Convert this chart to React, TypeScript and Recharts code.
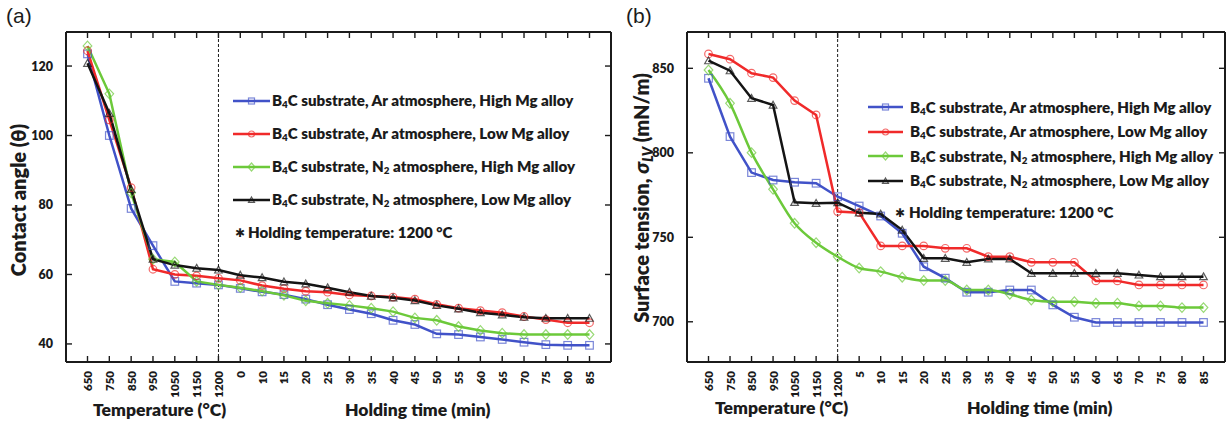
import React from "react";
import { LineChart, Line, XAxis, YAxis, ReferenceLine, Legend } from "recharts";

// x categories: heating temperatures, then holding times
const leftCats = ["650", "750", "850", "950", "1050", "1150", "1200", "0", "10", "15", "20", "25", "30", "35", "40", "45", "50", "55", "60", "65", "70", "75", "80", "85"];
const rightCats = ["650", "750", "850", "950", "1050", "1150", "1200", "5", "10", "15", "20", "25", "30", "35", "40", "45", "50", "55", "60", "65", "70", "75", "80", "85"];

// (a) contact angle
const angleArHigh = [123.5, 100, 79, 68.3, 58, 57.5, 57, 56, 55, 54.2, 52.9, 51.3, 49.9, 48.7, 46.8, 45.6, 42.9, 42.7, 42, 41.3, 40.5, 39.8, 39.6, 39.6];
const angleArLow = [124.4, 104.5, 85, 61.5, 60, 59.6, 58.9, 58.3, 56.8, 55.9, 55.2, 54.9, 54.1, 53.8, 53.5, 52.9, 51.4, 50.3, 49.6, 49, 47.9, 47, 46.1, 46.1];
const angleN2High = [125.8, 112, 83.5, 64.4, 63.6, 58, 57, 56.2, 55.2, 54, 52.4, 51.7, 51.1, 50.3, 49.3, 47.5, 46.8, 45, 43.9, 43.1, 42.7, 42.7, 42.7, 42.7];
const angleN2Low = [120.8, 106.4, 84.5, 64.4, 62.7, 61.8, 61.3, 59.8, 59.1, 57.9, 57.3, 56.2, 54.9, 53.8, 53.3, 52.5, 51.1, 50.1, 49, 48.4, 47.7, 47.4, 47.4, 47.4];

// (b) surface tension
const tensionArHigh = [844.1, 809.6, 788.3, 783.9, 782.6, 782, 774, 768.5, 762.6, 752.4, 732.6, 725.8, 717.5, 717.5, 718.8, 718.8, 710, 702.7, 699.6, 699.6, 699.6, 699.6, 699.6, 699.6];
const tensionArLow = [858.5, 855.4, 847.1, 844.5, 830.9, 822.4, 765.2, 764.6, 744.9, 744.9, 744.9, 743.5, 743.5, 738.5, 738.5, 735.2, 735.2, 735.2, 724.2, 724.2, 721.8, 721.8, 721.8, 721.8];
const tensionN2High = [849, 829.3, 800.1, 778.4, 758.3, 746.8, 738.5, 731.8, 729.7, 726.4, 724.4, 724.4, 718.8, 718.8, 716.3, 712.9, 711.9, 711.9, 711, 711, 709.4, 709.4, 708.4, 708.4];
const tensionN2Low = [854.5, 848.6, 832.3, 828.3, 770.7, 770.1, 770.5, 764.5, 763.8, 754.3, 737.6, 737.6, 735.2, 737.2, 737.2, 728.7, 728.7, 728.7, 728.7, 728.7, 727.7, 726.7, 726.7, 726.7];

const angleTicks = [40, 60, 80, 100, 120];
const tensionTicks = [700, 750, 800, 850];

const angleData = leftCats.map((cat, i) => ({
  cat,
  arHigh: angleArHigh[i],
  arLow: angleArLow[i],
  n2High: angleN2High[i],
  n2Low: angleN2Low[i],
}));

const tensionData = rightCats.map((cat, i) => ({
  cat,
  arHigh: tensionArHigh[i],
  arLow: tensionArLow[i],
  n2High: tensionN2High[i],
  n2Low: tensionN2Low[i],
}));

const FONT = "Lato, 'Open Sans', sans-serif";
const INK = "#1b1b1b";
const BOLD = 800;

const series = [
  { key: "arHigh", color: "#4152c8", shape: "square", gas: "Ar", alloy: "High" },
  { key: "arLow", color: "#f02a2a", shape: "circle", gas: "Ar", alloy: "Low" },
  { key: "n2High", color: "#6cc93a", shape: "diamond", gas: "N2", alloy: "High" },
  { key: "n2Low", color: "#141414", shape: "triangle", gas: "N2", alloy: "Low" },
];

function Marker({ shape, color, cx, cy, s = 3.8 }: any) {
  const common = { fill: "none", stroke: color, strokeWidth: 1.2, strokeOpacity: 0.7 };
  if (shape === "square") return <rect x={cx - s} y={cy - s} width={2 * s} height={2 * s} {...common} />;
  if (shape === "circle") return <circle cx={cx} cy={cy} r={s} {...common} />;
  if (shape === "diamond")
    return <polygon points={`${cx},${cy - s - 1} ${cx + s + 0.5},${cy} ${cx},${cy + s + 1} ${cx - s - 0.5},${cy}`} {...common} />;
  return <polygon points={`${cx},${cy - s} ${cx + s},${cy + s * 0.8} ${cx - s},${cy + s * 0.8}`} {...common} />;
}

const dotFor = (shape: string, color: string) => (props: any) => {
  const { cx, cy, index } = props;
  if (cx == null || cy == null) return <g key={index} />;
  return <Marker key={index} shape={shape} color={color} cx={cx} cy={cy} />;
};

const BottomTick = ({ x, y, payload }: any) => (
  <g>
    <line x1={x} x2={x} y1={y} y2={y - 6} stroke={INK} strokeWidth={1.4} />
    <text
      transform={`translate(${x},${y + 9}) rotate(-90)`}
      textAnchor="end"
      dominantBaseline="central"
      fontSize={11.5}
      fontWeight={BOLD}
      fontFamily={FONT}
      fill={INK}
    >
      {payload.value}
    </text>
  </g>
);

const TopTick = ({ x, y }: any) => <line x1={x} x2={x} y1={y} y2={y + 6} stroke={INK} strokeWidth={1.4} />;

const LeftTick = ({ x, y, payload }: any) => (
  <g>
    <line x1={x} x2={x + 6} y1={y} y2={y} stroke={INK} strokeWidth={1.4} />
    <text x={x - 13} y={y} textAnchor="end" dominantBaseline="central" fontSize={12.5} fontWeight={BOLD} fontFamily={FONT} fill={INK}>
      {payload.value}
    </text>
  </g>
);

const RightTick = ({ x, y }: any) => <line x1={x} x2={x - 6} y1={y} y2={y} stroke={INK} strokeWidth={1.4} />;

const subStyle: React.CSSProperties = { fontSize: "0.65em", verticalAlign: "-0.25em", lineHeight: 0 };

function LegendBox({ rowH, iconW, gap, holdGap, holdIndent, holdTextGap }: any) {
  return (
    <div style={{ fontFamily: FONT, fontWeight: BOLD, fontSize: 15.1, color: INK, lineHeight: 1 }}>
      {series.map((s) => (
        <div key={s.key} style={{ height: rowH, display: "flex", alignItems: "center" }}>
          <svg width={iconW} height={12} style={{ marginRight: gap, flex: "none" }}>
            <line x1={0} x2={iconW} y1={6} y2={6} stroke={s.color} strokeWidth={2.5} />
            <Marker shape={s.shape} color={s.color} cx={iconW / 2} cy={6} s={3} />
          </svg>
          <span style={{ whiteSpace: "nowrap" }}>
            B<sub style={subStyle}>4</sub>C substrate,{" "}
            {s.gas === "N2" ? (
              <>
                N<sub style={subStyle}>2</sub>
              </>
            ) : (
              "Ar"
            )}{" "}
            atmosphere, {s.alloy} Mg alloy
          </span>
        </div>
      ))}
      <div style={{ height: rowH, marginTop: holdGap, display: "flex", alignItems: "center", paddingLeft: holdIndent }}>
        <span style={{ fontFamily: "'DejaVu Sans'", fontSize: 12, marginRight: holdTextGap }}>✱</span>
        <span style={{ whiteSpace: "nowrap" }}>Holding temperature: 1200 °C</span>
      </div>
    </div>
  );
}

const axisLine = { stroke: INK, strokeWidth: 2 };

function Panel({ data, domain, ticks, yWidth, legend }: any) {
  return (
    <LineChart width={614} height={422} data={data} margin={{ top: 31, right: 2, bottom: 20, left: 16 }}>
      <XAxis
        dataKey="cat"
        interval={0}
        padding={{ left: 21.5, right: 21.5 }}
        axisLine={axisLine}
        tickLine={false}
        tickSize={0}
        tickMargin={0}
        height={40}
        tick={<BottomTick />}
      />
      <XAxis
        xAxisId="top"
        orientation="top"
        dataKey="cat"
        interval={0}
        padding={{ left: 21.5, right: 21.5 }}
        axisLine={axisLine}
        tickLine={false}
        tickSize={0}
        tickMargin={0}
        height={1}
        tick={<TopTick />}
      />
      <YAxis
        type="number"
        domain={domain}
        ticks={ticks}
        allowDataOverflow
        width={yWidth}
        axisLine={axisLine}
        tickLine={false}
        tickSize={0}
        tickMargin={0}
        tick={<LeftTick />}
      />
      <YAxis
        yAxisId="right"
        orientation="right"
        type="number"
        domain={domain}
        ticks={ticks}
        allowDataOverflow
        width={1}
        axisLine={axisLine}
        tickLine={false}
        tickSize={0}
        tickMargin={0}
        tick={<RightTick />}
      />
      <ReferenceLine x="1200" stroke={INK} strokeWidth={1} strokeDasharray="3 2" />
      {series.map((s) => (
        <Line
          key={s.key}
          type={legend.curvedGreen && s.key === "n2High" ? "monotone" : "linear"}
          dataKey={s.key}
          stroke={s.color}
          strokeWidth={2.5}
          dot={dotFor(s.shape, s.color)}
          activeDot={false}
          isAnimationActive={false}
        />
      ))}
      <Legend
        layout="vertical"
        align="center"
        verticalAlign="middle"
        wrapperStyle={{ left: legend.left, top: legend.top, width: 380, height: 180 }}
        content={() => <LegendBox {...legend} />}
      />
    </LineChart>
  );
}

const title: React.CSSProperties = {
  position: "absolute",
  fontFamily: FONT,
  fontWeight: BOLD,
  fontSize: 17.5,
  color: INK,
  whiteSpace: "nowrap",
  lineHeight: 1.2,
};

export default function App() {
  return (
    <div style={{ position: "absolute", left: 0, top: 0, width: 1228, height: 422, background: "#fff", overflow: "hidden" }}>
      <div style={{ position: "absolute", left: 0, top: 0 }}>
        <Panel
          data={angleData}
          domain={[34.8, 129.8]}
          ticks={angleTicks}
          yWidth={50}
          legend={{ left: 233, top: 84.5, rowH: 33, iconW: 37, gap: 2, holdGap: 0, holdIndent: 2, holdTextGap: 3, curvedGreen: false }}
        />
      </div>
      <div style={{ position: "absolute", left: 614, top: 0 }}>
        <Panel
          data={tensionData}
          domain={[676.2, 871.5]}
          ticks={tensionTicks}
          yWidth={57}
          legend={{ left: 254, top: 95, rowH: 24.5, iconW: 35, gap: 7, holdGap: 7.5, holdIndent: 281 - 254, holdTextGap: 4, curvedGreen: true }}
        />
      </div>

      <div style={{ position: "absolute", left: 6, top: 4, fontFamily: "'Liberation Sans', Arial, sans-serif", fontSize: 21, color: INK }}>(a)</div>
      <div style={{ position: "absolute", left: 626, top: 4, fontFamily: "'Liberation Sans', Arial, sans-serif", fontSize: 21, color: INK }}>(b)</div>

      <div style={{ ...title, fontSize: 20, left: 18, top: 200, transform: "translate(-50%, -50%) rotate(-90deg)" }}>Contact angle (θ)</div>
      <div style={{ ...title, fontSize: 20, left: 641, top: 198, transform: "translate(-50%, -50%) rotate(-90deg)" }}>
        Surface tension, <i>σ</i>
        <sub style={{ fontSize: "0.7em", fontStyle: "italic", verticalAlign: "-0.3em", lineHeight: 0 }}>LV</sub> (mN/m)
      </div>

      <div style={{ ...title, left: 93, top: 399 }}>Temperature (°C)</div>
      <div style={{ ...title, left: 345, top: 399 }}>Holding time (min)</div>
      <div style={{ ...title, left: 715, top: 397 }}>Temperature (°C)</div>
      <div style={{ ...title, left: 967, top: 397 }}>Holding time (min)</div>
    </div>
  );
}
